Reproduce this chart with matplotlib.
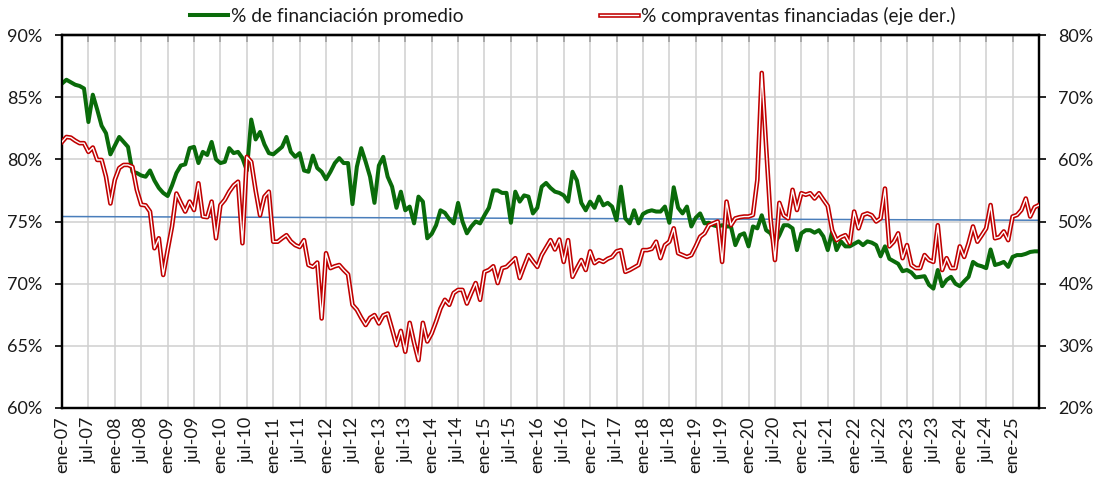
import numpy as np
import matplotlib
matplotlib.use("Agg")
import matplotlib.pyplot as plt
from matplotlib.lines import Line2D
from matplotlib.legend_handler import HandlerTuple
from matplotlib.ticker import PercentFormatter

plt.rcParams['font.family'] = ['Lato', 'DejaVu Sans']

# % de financiación promedio (eje izq.), mensual ene-07 .. jul-25
financiacion = [
    86.1, 86.4, 86.2, 86.0, 85.9, 85.7, 83.0, 85.2, 84.0, 82.7, 82.1, 80.4,   # 2007
    81.1, 81.8, 81.4, 81.0, 79.0, 78.9, 78.7, 78.6, 79.1, 78.3, 77.7, 77.3,   # 2008
    77.05, 77.9, 78.9, 79.5, 79.6, 80.9, 81.0, 79.7, 80.6, 80.35, 81.4, 80.0,  # 2009
    79.7, 79.8, 80.9, 80.5, 80.6, 80.1, 79.1, 83.2, 81.6, 82.2, 81.2, 80.5,   # 2010
    80.4, 80.7, 81.0, 81.8, 80.6, 80.2, 80.5, 79.1, 79.0, 80.3, 79.3, 79.0,   # 2011
    78.4, 79.0, 79.7, 80.1, 79.7, 79.7, 76.4, 79.4, 80.9, 79.8, 78.6, 76.5,   # 2012
    79.5, 80.2, 78.6, 77.8, 76.1, 77.4, 75.9, 76.2, 74.85, 77.0, 76.6, 73.65, # 2013
    74.0, 74.7, 75.9, 75.7, 75.2, 74.85, 76.5, 75.0, 74.05, 74.6, 75.0, 74.85, # 2014
    75.5, 76.1, 77.5, 77.5, 77.3, 77.3, 74.9, 77.4, 76.6, 77.1, 77.0, 75.65,  # 2015
    76.1, 77.8, 78.1, 77.7, 77.4, 77.3, 77.1, 76.6, 79.0, 78.3, 76.5, 75.9,   # 2016
    76.6, 76.1, 77.0, 76.3, 76.5, 76.2, 75.1, 77.8, 75.25, 74.85, 75.9, 74.85, # 2017
    75.6, 75.8, 75.9, 75.8, 75.8, 76.2, 74.9, 77.75, 76.1, 75.65, 76.2, 74.6, # 2018
    75.3, 75.65, 74.85, 74.9, 74.7, 74.6, 74.7, 74.6, 74.6, 73.1, 73.9, 74.05, # 2019
    73.0, 74.6, 74.45, 75.5, 74.3, 74.05, 73.25, 73.9, 74.7, 74.7, 74.45, 72.7, # 2020
    74.05, 74.3, 74.3, 74.1, 74.3, 73.8, 72.7, 74.2, 72.7, 73.4, 73.0, 73.0,  # 2021
    73.2, 73.4, 73.1, 73.4, 73.3, 73.1, 72.2, 73.0, 72.0, 71.8, 71.6, 71.0,   # 2022
    71.1, 70.9, 70.5, 70.55, 70.6, 69.9, 69.6, 71.1, 69.8, 70.3, 70.55, 70.0, # 2023
    69.8, 70.2, 70.55, 71.75, 71.5, 71.4, 71.25, 72.75, 71.5, 71.6, 71.75, 71.35, # 2024
    72.15, 72.3, 72.3, 72.4, 72.55, 72.6, 72.6,                               # 2025
]

# % compraventas financiadas (eje der.)
compraventas = [
    62.8, 63.6, 63.5, 63.0, 62.6, 62.6, 61.2, 61.9, 59.9, 59.9, 57.2, 52.9,   # 2007
    56.7, 58.6, 59.1, 59.1, 58.8, 55.1, 52.7, 52.6, 51.6, 45.7, 47.3, 41.4,   # 2008
    45.4, 49.2, 54.5, 53.0, 51.6, 53.2, 51.85, 56.15, 50.8, 50.7, 53.2, 47.3, # 2009
    52.65, 53.5, 54.8, 55.8, 56.4, 46.5, 60.4, 59.6, 55.0, 51.0, 54.0, 54.8,  # 2010
    46.75, 46.75, 47.3, 47.8, 46.8, 46.2, 45.9, 47.0, 43.0, 42.7, 43.4, 34.4, # 2011
    44.9, 42.5, 42.8, 43.0, 42.2, 41.5, 36.6, 35.8, 34.5, 33.35, 34.5, 34.95, # 2012
    33.6, 34.9, 35.2, 32.7, 30.1, 32.4, 29.05, 33.7, 30.5, 27.7, 33.7, 30.7,  # 2013
    32.0, 33.9, 36.0, 37.4, 36.6, 38.5, 39.0, 39.0, 36.8, 38.5, 40.1, 37.4,   # 2014
    41.9, 42.2, 42.8, 40.1, 42.5, 42.7, 43.4, 44.1, 40.9, 42.8, 44.6, 43.6,   # 2015
    42.7, 44.6, 45.8, 47.0, 45.5, 47.1, 43.5, 47.0, 41.1, 42.5, 43.8, 42.2,   # 2016
    45.2, 43.3, 43.8, 43.5, 44.0, 44.3, 45.2, 45.4, 41.9, 42.2, 42.6, 43.0,   # 2017
    45.4, 45.4, 45.6, 46.75, 44.1, 46.2, 46.75, 48.9, 44.9, 44.6, 44.3, 44.6, # 2018
    46.0, 47.55, 48.1, 49.4, 49.7, 50.0, 43.5, 53.2, 49.4, 50.5, 50.7, 50.8,  # 2019
    50.8, 51.05, 56.7, 73.9, 62.0, 50.5, 43.8, 53.0, 51.0, 50.5, 55.1, 51.85, # 2020
    54.55, 54.3, 54.55, 53.7, 54.55, 53.5, 52.5, 48.6, 47.0, 47.5, 47.8, 46.5, # 2021
    51.6, 48.9, 51.05, 51.3, 51.0, 50.0, 50.5, 55.3, 46.0, 46.75, 48.1, 44.1, # 2022
    46.2, 43.0, 42.5, 42.5, 44.6, 43.8, 43.5, 49.4, 42.2, 44.1, 42.5, 42.5,   # 2023
    46.0, 44.3, 46.5, 49.2, 46.75, 47.8, 48.9, 52.65, 47.3, 47.5, 48.4, 47.0, # 2024
    50.8, 51.05, 51.85, 53.7, 50.8, 52.3, 52.65,                              # 2025
]

# linea de referencia (eje izq.), inicio y fin del periodo
linea_ref = [75.4, 75.1]

etiquetas_x = ['ene-07', 'jul-07', 'ene-08', 'jul-08', 'ene-09', 'jul-09',
               'ene-10', 'jul-10', 'ene-11', 'jul-11', 'ene-12', 'jul-12',
               'ene-13', 'jul-13', 'ene-14', 'jul-14', 'ene-15', 'jul-15',
               'ene-16', 'jul-16', 'ene-17', 'jul-17', 'ene-18', 'jul-18',
               'ene-19', 'jul-19', 'ene-20', 'jul-20', 'ene-21', 'jul-21',
               'ene-22', 'jul-22', 'ene-23', 'jul-23', 'ene-24', 'jul-24',
               'ene-25']

assert len(financiacion) == len(compraventas)
x = np.arange(len(financiacion))
ticks_x = np.arange(len(etiquetas_x)) * 6

VERDE = '#0A6B0A'
ROJO = '#C00000'
AZUL = '#4A7EBB'
GRIS = '#D0D0D0'
TXT = '#1A1A1A'

fig = plt.figure(figsize=(10.97, 4.79), dpi=100)
ax = fig.add_axes([62 / 1097, 71 / 479, 977 / 1097, 373 / 479])
ax2 = ax.twinx()

ax.set_xlim(0, len(x) - 1)
ax.set_ylim(60, 90)
ax2.set_ylim(20, 80)

ax.set_yticks(np.arange(60, 91, 5))
ax2.set_yticks(np.arange(20, 81, 10))
ax.yaxis.set_major_formatter(PercentFormatter(decimals=0))
ax2.yaxis.set_major_formatter(PercentFormatter(decimals=0))
ax.set_xticks(ticks_x)
ax.set_xticklabels(etiquetas_x, rotation=90)

ax.grid(True, color=GRIS, lw=1.1)
ax.set_axisbelow(True)

ax.plot([x[0], x[-1]], linea_ref, color=AZUL, lw=1.1, zorder=2)
ax.plot(x, financiacion, color=VERDE, lw=2.9, zorder=3)
ax2.plot(x, compraventas, color=ROJO, lw=3.3, zorder=3)
ax2.plot(x, compraventas, color='white', lw=1.0, zorder=4)

for a in (ax, ax2):
    for s in a.spines.values():
        s.set_linewidth(1.6)
        s.set_color('black')

ax.tick_params(axis='x', length=0, pad=6, labelsize=13, labelcolor=TXT)
ax.tick_params(axis='y', direction='out', length=5, width=1.2, pad=9,
               labelsize=13, labelcolor=TXT)
ax2.tick_params(axis='y', direction='out', length=5, width=1.2, pad=9,
                labelsize=13, labelcolor=TXT)

top = ax.secondary_xaxis('top')
top.set_xticks(ticks_x)
top.set_xticklabels([])
top.tick_params(direction='in', length=5, width=1.2)
top.spines['top'].set_linewidth(1.6)

h1 = Line2D([], [], color=VERDE, lw=2.9)
h2 = (Line2D([], [], color=ROJO, lw=3.3), Line2D([], [], color='white', lw=1.0))
fig.legend([h1, h2], ['% de financiación promedio', '% compraventas financiadas (eje der.)'],
           handler_map={tuple: HandlerTuple(ndivide=1)},
           loc='center', bbox_to_anchor=(0.5223, 1 - 16 / 479), ncol=2,
           frameon=False, fontsize=13.8, handlelength=2.0, handletextpad=0.16,
           columnspacing=7.1, labelcolor=TXT)

fig.savefig('out.png', dpi=100)
